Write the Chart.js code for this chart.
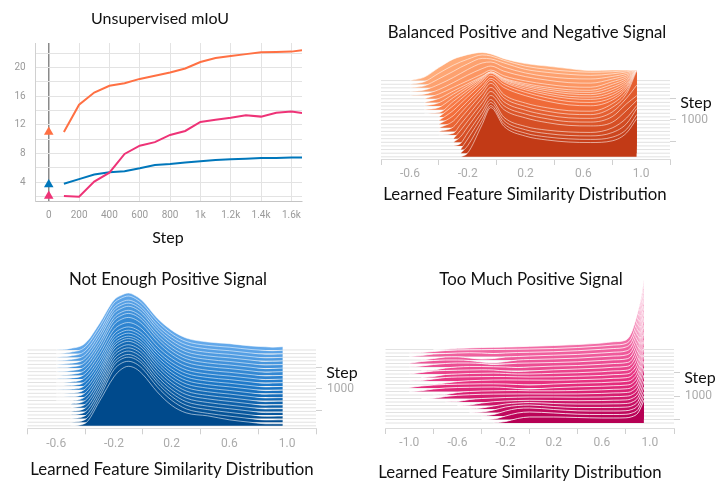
<!DOCTYPE html>
<html>
<head>
<meta charset="utf-8">
<script src="https://cdn.jsdelivr.net/npm/chart.js@4.4.1/dist/chart.umd.min.js"></script>
<style>
    body { margin: 0; background: #fff; }
    #wrap { position: relative; width: 716px; height: 481px; overflow: hidden; background: #fff; }
    canvas { position: absolute; }
    .lbl { position: absolute; z-index: 2; font-family: Lato, sans-serif; font-size: 16.8px; line-height: 1; color: #111; white-space: nowrap; transform: translate(-50%, -50%); }
    .lbl.sm { font-size: 16px; }
</style>
</head>
<body>
<div id="wrap">
    <canvas id="miou" width="330" height="250" style="left:0;top:0"></canvas>
    <canvas id="balanced" width="358" height="215" style="left:358px;top:0"></canvas>
    <canvas id="notenough" width="358" height="231" style="left:0;top:250px"></canvas>
    <canvas id="toomuch" width="358" height="231" style="left:358px;top:250px"></canvas>

    <div class="lbl sm" style="left:160px;top:18px">Unsupervised mIoU</div>
    <div class="lbl sm" style="left:168px;top:237px">Step</div>

    <div class="lbl" style="left:527px;top:32px">Balanced Positive and Negative Signal</div>
    <div class="lbl" style="left:525px;top:194px">Learned Feature Similarity Distribution</div>
    <div class="lbl sm" style="left:696px;top:102px">Step</div>

    <div class="lbl" style="left:168px;top:279px">Not Enough Positive Signal</div>
    <div class="lbl" style="left:172px;top:469px">Learned Feature Similarity Distribution</div>
    <div class="lbl sm" style="left:342px;top:372px">Step</div>

    <div class="lbl" style="left:531px;top:279px">Too Much Positive Signal</div>
    <div class="lbl" style="left:520px;top:472px">Learned Feature Similarity Distribution</div>
    <div class="lbl sm" style="left:700px;top:377px">Step</div>
</div>

<script>
// ---- unsupervised mIoU (smoothed scalars) ----
var miouSteps = [100, 200, 300, 400, 500, 600, 700, 800, 900, 1000, 1100, 1200, 1300, 1400, 1500, 1600, 1670];
var miouBalanced = [11.0, 14.8, 16.5, 17.45, 17.8, 18.4, 18.85, 19.3, 19.85, 20.75, 21.3, 21.6, 21.85, 22.1, 22.15, 22.2, 22.4];
var miouNotEnough = [3.8, 4.45, 5.1, 5.4, 5.55, 5.95, 6.4, 6.55, 6.75, 6.95, 7.1, 7.2, 7.3, 7.4, 7.4, 7.45, 7.45];
var miouTooMuch = [2.1, 2.0, 4.1, 5.35, 7.95, 9.1, 9.6, 10.6, 11.15, 12.4, 12.7, 13.0, 13.35, 13.15, 13.7, 13.85, 13.65];
// values marked on the hover line at step 0 (balanced, not enough, too much)
var miouMarkers = [11.0, 3.7, 2.1];
var miouXTicks = [0, 200, 400, 600, 800, 1000, 1200, 1400, 1600];
var miouYTicks = [2, 4, 6, 8, 10, 12, 14, 16, 18, 20, 22];

// ---- similarity histograms, one slice per logged step ----
var histSteps = [85, 170, 255, 340, 425, 510, 595, 680, 765, 850, 935, 1020, 1105, 1190, 1275, 1360, 1445, 1530, 1615, 1700, 1785, 1870];
var tooMuchSteps = [0, 75, 150, 225, 300, 375, 450, 525, 600, 675, 750, 825, 900, 975, 1050, 1125, 1200, 1275, 1350, 1425, 1500, 1575];
var stepTicks = [500, 1000, 1500];

var simTicks = [-0.8, -0.6, -0.4, -0.2, 0, 0.2, 0.4, 0.6, 0.8, 1.0, 1.2];
var simLabels = ['', '-0.6', '', '-0.2', '', '0.2', '', '0.6', '', '1.0', ''];
var simTicksWide = [-1.2, -1.0, -0.8, -0.6, -0.4, -0.2, 0, 0.2, 0.4, 0.6, 0.8, 1.0, 1.2];
var simLabelsWide = ['', '-1.0', '', '-0.6', '', '-0.2', '', '0.2', '', '0.6', '', '1.0', ''];

var balancedBins = [-0.6, -0.5, -0.4, -0.3, -0.25, -0.2, -0.1, -0.04, 0.05, 0.2, 0.35, 0.5, 0.65, 0.8, 0.9, 0.97];
var balancedDensity = [
    [0, 3.5, 13, 21.5, 24, 26, 28.2, 26.7, 22, 17, 14.5, 12, 10, 10.5, 10.7, 10.7],
    [0, 2.5, 11, 19, 22.3, 25, 29.3, 28.3, 24, 18, 15, 13, 12, 12.5, 13.5, 14.3],
    [0, 2, 9, 16.5, 20.5, 24, 29.5, 29, 25, 18.5, 15.5, 13.5, 12.5, 14, 16, 17.9],
    [0, 1.5, 7, 14, 18, 22, 28.5, 29.5, 24.5, 18.5, 15, 13, 12.5, 15, 18, 21.5],
    [0, 1, 5.5, 12.5, 16.3, 20, 26.5, 29.1, 24, 18.5, 15, 12.5, 12, 16, 20, 25.1],
    [0, 0, 4.7, 11.3, 14.7, 18, 24.7, 28.7, 23, 17.8, 14.4, 12, 11.5, 17, 22, 28.7],
    [0, 0, 3.9, 11.3, 15, 18.6, 25.9, 30.3, 24.2, 18.8, 15.2, 12.7, 12.1, 18, 24, 32.3],
    [0, 0, 3.2, 11.8, 16, 20.3, 28.8, 33.9, 27.1, 21, 17, 14.2, 13.6, 19, 26, 35.9],
    [0, 0, 2.2, 12, 16.9, 21.8, 31.6, 37.5, 30, 23.3, 18.8, 15.8, 15, 20, 28, 39.5],
    [0, 0, 0.7, 11.8, 17.4, 22.9, 33.9, 40.6, 32.5, 25.2, 20.3, 17, 16.2, 21, 30, 43.1],
    [0, 0, 0, 11.2, 17.5, 23.7, 36.2, 43.7, 35, 27.1, 21.9, 18.4, 17.5, 22, 32, 46.7],
    [0, 0, 0, 10, 16.8, 23.6, 37.2, 45.3, 36.2, 28.1, 22.7, 19, 18.1, 23, 34, 50.3],
    [0, 0, 0, 8.4, 15.6, 22.8, 37.2, 45.9, 36.7, 28.5, 23, 19.3, 18.4, 24, 36, 53.9],
    [0, 0, 0, 6.6, 14.5, 22.3, 38, 47.5, 33.3, 24.7, 20, 17.1, 16.6, 24, 37, 57.5],
    [0, 0, 0, 4.4, 12.8, 21.2, 38, 48.1, 33.7, 25, 20.2, 17.3, 16.8, 24, 38, 61.1],
    [0, 0, 0, 1.8, 10.6, 19.4, 37.1, 47.7, 33.4, 24.8, 20, 17.2, 16.7, 23, 37, 50],
    [0, 0, 0, 0, 8.2, 17.5, 36.1, 47.3, 33.1, 24.6, 19.9, 17, 16.6, 22, 35, 43],
    [0, 0, 0, 0, 5.5, 15.4, 35.1, 46.9, 32.8, 24.4, 19.7, 16.9, 16.4, 20, 32, 42],
    [0, 0, 0, 0, 2.5, 13, 33.9, 46.5, 28.8, 19.5, 15.8, 14, 13.5, 18, 28, 40.5],
    [0, 0, 0, 0, 0, 10.5, 33.4, 47.1, 29.2, 19.8, 16, 14.1, 13.7, 17, 26, 41],
    [0, 0, 0, 0, 0, 7.5, 32.6, 47.7, 29.6, 20, 16.2, 14.3, 13.8, 16, 24, 38.7],
    [0, 0, 0, 0, 0, 3.9, 32.3, 49.3, 30.6, 20.7, 16.8, 14.8, 14.3, 16, 24, 38.3]
];

var notEnoughBins = [-0.6, -0.5, -0.4, -0.3, -0.2, -0.15, -0.1, -0.05, 0.0, 0.1, 0.2, 0.3, 0.45, 0.6, 0.75, 0.85, 0.9, 0.97];
var notEnoughDensity = [
    [0, 1.5, 6.7, 26.6, 50, 54.7, 57, 54.3, 49, 32, 19.8, 12, 8, 6.3, 4, 3.2, 2.8, 3.3],
    [0, 1.4, 6.5, 26.5, 50.5, 55.4, 57.6, 55, 49.5, 32.5, 20, 12.2, 8.2, 6.4, 4.1, 3.1, 2.9, 3.4],
    [0, 1.3, 6.2, 26, 50, 55, 57.1, 54.8, 49.2, 32.4, 20.2, 12.4, 8.3, 6.5, 4.2, 3, 3, 3.4],
    [0, 1.2, 6, 26, 50.5, 55.6, 57.7, 55.4, 50, 33, 20.5, 12.5, 8.4, 6.5, 4.2, 3, 3.1, 3.5],
    [0, 1.1, 5.8, 26, 51, 56, 58.2, 56, 50.5, 33.5, 20.8, 12.7, 8.5, 6.6, 4.3, 3, 3.1, 3.5],
    [0, 1, 5.6, 25.5, 50.5, 55.8, 57.8, 55.6, 50.2, 33.3, 20.8, 12.8, 8.6, 6.6, 4.3, 3, 3.2, 3.5],
    [0, 0.9, 5.4, 25.5, 51, 56.2, 58.3, 56.2, 50.8, 33.8, 21, 13, 8.7, 6.7, 4.4, 3, 3.2, 3.6],
    [0, 0.8, 5.2, 25, 50.5, 55.9, 57.9, 55.8, 50.5, 33.6, 21, 13, 8.7, 6.7, 4.4, 3, 3.2, 3.6],
    [0, 0.7, 5, 24.5, 49.2, 54.5, 56.4, 54.4, 49.2, 32.8, 20.6, 12.8, 8.6, 6.6, 4.3, 2.9, 3.1, 3.5],
    [0, 0.6, 4.8, 24, 48.5, 53.7, 55.6, 53.6, 48.6, 32.4, 20.4, 12.7, 8.5, 6.5, 4.2, 2.9, 3.1, 3.4],
    [0, 0.5, 4.6, 24, 48.8, 54, 56, 54, 49, 32.8, 20.6, 12.8, 8.6, 6.5, 4.2, 2.8, 3, 3.4],
    [0, 0.4, 4.4, 24, 49.3, 54.6, 56.6, 54.6, 49.6, 33.2, 20.8, 12.9, 8.6, 6.5, 4.1, 2.8, 3, 3.3],
    [0, 0.3, 4.2, 24, 49.8, 55.2, 57.2, 55.2, 50.2, 33.6, 21, 13, 8.7, 6.5, 4.1, 2.7, 2.9, 3.2],
    [0, 0.2, 4, 24.2, 50.8, 56.4, 58.4, 56.4, 51.2, 34.2, 21.3, 13.1, 8.8, 6.5, 4, 2.7, 2.9, 3.1],
    [0, 0.1, 3.8, 24.4, 51.5, 57.2, 59.3, 57.2, 52, 34.7, 21.6, 13.2, 8.8, 6.5, 4, 2.6, 2.8, 3],
    [0, 0, 3.6, 24.4, 51.6, 57.4, 59.5, 57.4, 52.2, 34.8, 21.7, 13.2, 8.8, 6.4, 3.9, 2.5, 2.7, 2.9],
    [0, 0, 3.4, 24.5, 52, 57.9, 60, 57.9, 52.6, 35, 21.8, 13.3, 8.9, 6.4, 3.9, 2.5, 2.7, 2.8],
    [0, 0, 3.2, 24.5, 52.2, 58.3, 60.4, 58.3, 52.9, 35.2, 21.9, 13.3, 8.9, 6.3, 3.8, 2.4, 2.6, 2.7],
    [0, 0, 3, 24.5, 52.4, 58.5, 60.6, 58.5, 53, 35.3, 22, 13.4, 8.9, 6.3, 3.8, 2.4, 2.5, 2.6],
    [0, 0, 2.8, 24.6, 53, 59.4, 61.5, 59.4, 53.8, 35.8, 22.2, 13.5, 9, 6.2, 3.7, 2.3, 2.4, 2.5],
    [0, 0, 2.6, 24.6, 52.6, 58.9, 61, 58.9, 53.3, 35.5, 22, 13.4, 8.9, 6.1, 3.6, 2.2, 2.3, 2.4],
    [0, 0, 2.4, 24.6, 49, 56.5, 59.6, 57.5, 51.5, 34, 20.5, 13, 10, 6, 3.5, 2, 2, 2]
];

var tooMuchBins = [-1.0, -0.9, -0.8, -0.7, -0.6, -0.5, -0.4, -0.3, -0.2, -0.1, 0.0, 0.2, 0.4, 0.6, 0.7, 0.8, 0.85, 0.9, 0.93, 0.95];
var tooMuchDensity = [
    [0, 0, 0, 0.3, 1.2, 1.6, 2, 2.2, 2.5, 2.8, 3.2, 4, 5, 6.5, 7.8, 9.5, 18, 37.5, 53.5, 69.5],
    [0, 0.5, 1.5, 2.5, 3, 3.2, 3.3, 3.5, 3.6, 3.8, 4, 4.5, 5.5, 7, 8, 9.5, 16, 36, 54, 71],
    [0, 1, 2.5, 3, 3.5, 3.8, 3.5, 3, 3.5, 4, 4.2, 4.8, 5.8, 7.2, 8, 9.5, 15, 34, 53, 71.5],
    [0, 0, 1.5, 3, 3.2, 2, 1, 1.5, 3, 3.5, 4, 4.8, 5.6, 7, 7.8, 9, 14, 32, 51, 70],
    [0.3, 2, 3, 3.5, 3.5, 3, 1.5, 0.8, 2, 3.5, 4, 4.6, 5.4, 6.8, 7.5, 8.5, 13, 30, 49, 68.5],
    [0, 1, 2.5, 3.5, 4, 4, 3.5, 2.5, 3, 3.8, 4, 4.5, 5.2, 6.5, 7.2, 8, 12, 28, 47, 67],
    [0, 0, 0.5, 2.5, 3.5, 4, 4, 3.8, 3.5, 3, 3.5, 4.4, 5, 6.2, 7, 7.8, 11, 26, 45, 64.5],
    [0, 1.5, 3, 3.5, 3.8, 4, 4.2, 4, 3, 2.5, 3, 4.2, 5, 6, 6.8, 7.5, 10.5, 24, 43, 62],
    [0, 0, 1, 3, 3.5, 4, 4.2, 4.4, 4, 3.5, 3.5, 4.2, 4.8, 5.8, 6.6, 7.2, 10, 22, 41, 59.5],
    [0, 0.5, 2, 3.5, 4, 4.2, 4.4, 4.5, 4.5, 4.2, 4, 4.2, 4.8, 5.6, 6.4, 7, 9.5, 20, 38, 56],
    [0, 0, 0, 1.5, 3, 3.8, 4.2, 4.5, 4.6, 4.5, 4.4, 4.3, 4.8, 5.5, 6.2, 6.8, 9, 18.5, 35, 52.5],
    [0.5, 2, 3, 3.5, 3.8, 4, 4.2, 4.2, 4, 3.5, 3, 4, 4.8, 5.4, 6, 6.6, 8.5, 17, 32, 48],
    [0, 0.8, 2.5, 3.5, 4, 4.2, 4.4, 4.5, 4, 3, 2.5, 3.8, 4.7, 5.3, 5.8, 6.4, 8, 16, 30, 44.5],
    [0, 0, 0, 0.5, 2.5, 3.5, 4, 4.2, 4.4, 4.5, 4.2, 4.2, 4.6, 5.2, 5.7, 6.2, 7.8, 15, 28, 41],
    [0, 0, 0.3, 2, 3.2, 3.8, 4.2, 4.4, 4.5, 4.6, 4.6, 4.5, 4.6, 5.1, 5.6, 6, 7.5, 14, 26, 37.5],
    [0, 0, 0, 0, 0.5, 2.5, 3.5, 4, 4.5, 4.8, 5, 5, 4.8, 5, 5.4, 5.8, 7.2, 13, 24, 34],
    [0, 0, 0, 0, 0, 0.5, 2.5, 3.8, 4.5, 5, 5.2, 5, 4.8, 5, 5.3, 5.6, 7, 12, 22, 30.5],
    [0, 0, 0, 0, 0, 0, 1, 3, 5, 6, 6.5, 5.5, 5, 5, 5.2, 5.5, 6.8, 11.5, 20, 28],
    [0, 0, 0, 0, 0, 0, 0.5, 2.5, 5.5, 7, 7.5, 6, 5, 5, 5.1, 5.4, 6.6, 11, 19, 25.5],
    [0, 0, 0, 0, 0, 0, 0, 1.5, 5, 7.5, 8, 6.5, 5.2, 5, 5, 5.3, 6.5, 10.5, 18, 24],
    [0, 0, 0, 0, 0, 0, 0, 0.5, 3.5, 6.5, 7.5, 6.5, 5.3, 5, 5, 5.2, 6.4, 10, 17.5, 23.5],
    [0, 0, 0, 0, 0, 0, 0, 0, 1.5, 4.5, 6, 6, 5.5, 5, 5, 5.2, 6.3, 10, 17, 23]
];

var tickFont = {family: 'Roboto', size: 12};

function mixColor(stops, t) {
    // stops: [light, mid, dark] rgb triples
    let a, b, f;
    if (t <= 0.5) { a = stops[0]; b = stops[1]; f = t / 0.5; }
    else { a = stops[1]; b = stops[2]; f = (t - 0.5) / 0.5; }
    let c = [0, 1, 2].map(i => Math.round(a[i] + (b[i] - a[i]) * f));
    return 'rgb(' + c.join(',') + ')';
}

function buildRidge(id, cfg) {
    let datasets = [];
    let steps = cfg.steps;

    //gray baseline of every slice
    let base = [];
    for (let k = 0; k < steps.length; k++) {
        base.push({x: cfg.xMin, y: steps[k]});
        base.push({x: cfg.xMax, y: steps[k]});
        base.push({x: cfg.xMax, y: null});
    }
    datasets.push({
        data: base,
        borderColor: '#e2e2e2',
        borderWidth: 1,
        pointRadius: 0,
        fill: false,
        spanGaps: false,
        order: 100
    });

    //slices, oldest at the back
    for (let k = 0; k < steps.length; k++) {
        let row = cfg.density[k];
        let first = 0;
        while (first < row.length - 1 && row[first + 1] == 0) {
            first++;
        }
        let pts = [];
        for (let i = first; i < row.length; i++) {
            pts.push({x: cfg.bins[i], y: steps[k] - row[i] * cfg.unit});
        }
        datasets.push({
            data: pts,
            backgroundColor: mixColor(cfg.colors, k / (steps.length - 1)),
            borderColor: cfg.edge,
            borderWidth: 1,
            pointRadius: 0,
            cubicInterpolationMode: 'monotone',
            fill: {value: steps[k]},
            order: steps.length - k
        });
    }

    return new Chart(document.getElementById(id), {
        type: 'line',
        data: {datasets: datasets},
        options: {
            responsive: false,
            animation: false,
            devicePixelRatio: 1,
            layout: {padding: {left: cfg.left, top: cfg.top, right: 0, bottom: 0}},
            plugins: {legend: {display: false}, tooltip: {enabled: false}},
            scales: {
                x: {
                    type: 'linear',
                    min: cfg.xMin,
                    max: cfg.xMax,
                    afterBuildTicks: function(axis) {
                        axis.ticks = cfg.ticks.map(v => ({value: v}));
                    },
                    afterFit: function(axis) {
                        axis.height = cfg.xHeight;
                    },
                    ticks: {
                        autoSkip: false,
                        maxRotation: 0,
                        padding: 2,
                        color: '#ababab',
                        font: tickFont,
                        callback: (v, i) => cfg.labels[i]
                    },
                    grid: {
                        drawOnChartArea: false,
                        tickLength: 6,
                        color: c => cfg.labels[c.index] === '' ? '#d0d0d0' : 'rgba(0,0,0,0)'
                    },
                    border: {color: '#dcdcdc'}
                },
                y: {
                    type: 'linear',
                    position: 'right',
                    reverse: true,
                    min: cfg.yMin,
                    max: cfg.yMax,
                    afterBuildTicks: function(axis) {
                        axis.ticks = stepTicks.map(v => ({value: v}));
                    },
                    afterFit: function(axis) {
                        axis.width = cfg.yWidth;
                    },
                    ticks: {
                        padding: 5,
                        color: '#ababab',
                        font: tickFont,
                        callback: v => v === 1000 ? '1000' : ''
                    },
                    grid: {drawOnChartArea: false, tickLength: 6, color: '#d0d0d0'},
                    border: {display: false}
                }
            }
        }
    });
}

// ---- mIoU line chart ----
function pairs(ys) {
    return miouSteps.map((s, i) => ({x: s, y: ys[i]}));
}

var lineStyle = {borderWidth: 2, pointRadius: 0, tension: 0, fill: false};

new Chart(document.getElementById('miou'), {
    type: 'line',
    data: {
        datasets: [
            {
                data: miouMarkers.map(v => ({x: 0, y: v})),
                showLine: false,
                pointStyle: 'triangle',
                pointRadius: 5.5,
                pointBorderWidth: 0,
                pointBackgroundColor: ['#ff7043', '#0077bb', '#ee3377'],
                order: 0
            },
            Object.assign({data: pairs(miouBalanced), borderColor: '#ff7043', order: 1}, lineStyle),
            Object.assign({data: pairs(miouTooMuch), borderColor: '#ee3377', order: 2}, lineStyle),
            Object.assign({data: pairs(miouNotEnough), borderColor: '#0077bb', order: 3}, lineStyle)
        ]
    },
    options: {
        responsive: false,
        animation: false,
        devicePixelRatio: 1,
        layout: {padding: {left: 0, top: 43, right: 28, bottom: 0}},
        plugins: {legend: {display: false}, tooltip: {enabled: false}},
        scales: {
            x: {
                type: 'linear',
                min: -86,
                max: 1670,
                afterBuildTicks: function(axis) {
                    axis.ticks = miouXTicks.map(v => ({value: v}));
                },
                afterFit: function(axis) {
                    axis.height = 49;
                },
                ticks: {
                    autoSkip: false,
                    maxRotation: 0,
                    padding: 8,
                    color: '#9a9a9a',
                    font: {family: 'Roboto', size: 10},
                    callback: v => v >= 1000 ? (v / 1000) + 'k' : v
                },
                grid: {
                    drawTicks: false,
                    color: c => c.tick && c.tick.value === 0 ? '#8a8a8a' : '#e3e3e3',
                    lineWidth: c => c.tick && c.tick.value === 0 ? 1.5 : 1
                },
                border: {color: '#c4c4c4'}
            },
            y: {
                type: 'linear',
                min: 1.4,
                max: 23.4,
                afterBuildTicks: function(axis) {
                    axis.ticks = miouYTicks.map(v => ({value: v}));
                },
                afterFit: function(axis) {
                    axis.width = 35.7;
                },
                ticks: {
                    padding: 10,
                    color: '#9a9a9a',
                    font: {family: 'Roboto', size: 10},
                    callback: v => v % 4 === 0 ? v : ''
                },
                grid: {drawTicks: false, color: '#e3e3e3'},
                border: {color: '#d0d0d0'}
            }
        }
    }
});

// ---- the three histogram panels ----
buildRidge('balanced', {
    bins: balancedBins, density: balancedDensity, steps: histSteps,
    xMin: -0.8, xMax: 1.2, ticks: simTicks, labels: simLabels,
    yMin: -749, yMax: 1921, unit: 23.4,
    left: 23, top: 45, yWidth: 46, xHeight: 56,
    colors: [[255, 172, 122], [246, 114, 62], [194, 58, 22]],
    edge: 'rgba(255,255,255,0.55)'
});

buildRidge('notenough', {
    bins: notEnoughBins, density: notEnoughDensity, steps: histSteps,
    xMin: -0.8, xMax: 1.2, ticks: simTicks, labels: simLabels,
    yMin: -1444, yMax: 1928, unit: 23.5,
    left: 27.3, top: 35, yWidth: 42, xHeight: 52.7,
    colors: [[98, 168, 234], [28, 120, 200], [0, 74, 140]],
    edge: 'rgba(255,255,255,0.55)'
});

buildRidge('toomuch', {
    bins: tooMuchBins, density: tooMuchDensity, steps: tooMuchSteps,
    xMin: -1.2, xMax: 1.2, ticks: simTicksWide, labels: simLabelsWide,
    yMin: -1532, yMax: 1682, unit: 21.4,
    left: 27.3, top: 28, yWidth: 42, xHeight: 53,
    colors: [[242, 108, 166], [230, 46, 126], [182, 0, 84]],
    edge: 'rgba(255,255,255,0.8)'
});
</script>
</body>
</html>
